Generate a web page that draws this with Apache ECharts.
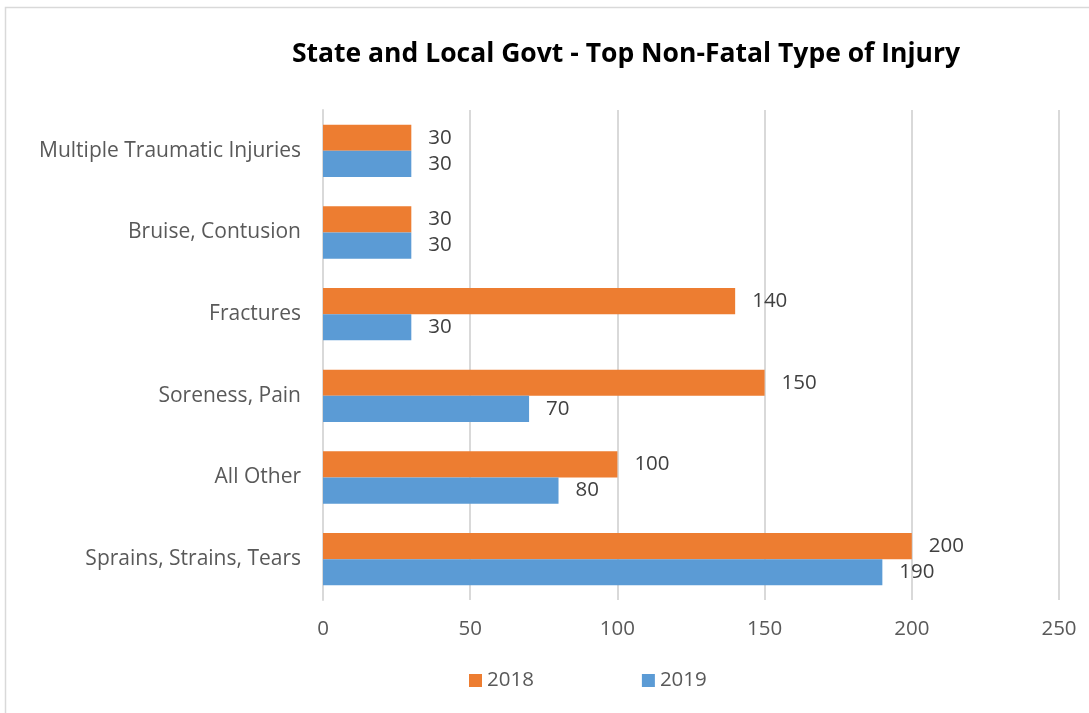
<!DOCTYPE html>
<html><head><meta charset="utf-8">
<script src="https://cdn.jsdelivr.net/npm/echarts@6/dist/echarts.min.js"></script>
<style>html,body{margin:0;padding:0;background:#fff}#c{width:1089px;height:713px}</style>
</head><body><div id="c"></div>
<script>
const categories = ['Sprains, Strains, Tears','All Other','Soreness, Pain','Fractures','Bruise, Contusion','Multiple Traumatic Injuries'];
const values2018 = [200, 100, 150, 140, 30, 30];
const values2019 = [190, 80, 70, 30, 30, 30];
const xTicks = [0, 50, 100, 150, 200, 250];
const FONT = 'Open Sans';
const chart = echarts.init(document.getElementById('c'), null, {renderer:'canvas'});
chart.setOption({
  animation:false,
  textStyle:{fontFamily:FONT},
  graphic:[{type:'rect',shape:{x:5.5,y:7.5,width:1200,height:800},style:{fill:'none',stroke:'#d9d9d9',lineWidth:1.5},silent:true,z:-1}],
  title:{text:'State and Local Govt - Top Non-Fatal Type of Injury',left:621,textAlign:'center',top:36,
    textStyle:{fontFamily:FONT,fontWeight:'bold',fontSize:26.5,color:'#000'}},
  legend:{data:['2018','2019'],top:665,left:464,itemWidth:13,itemHeight:13,itemGap:108,icon:'rect',
    textStyle:{fontFamily:FONT,fontSize:20.5,color:'#595959'}},
  grid:{left:323,right:30,top:110,bottom:113,containLabel:false},
  xAxis:{type:'value',min:xTicks[0],max:xTicks[xTicks.length-1],interval:50,
    axisLine:{show:false},axisTick:{show:false},
    axisLabel:{fontFamily:FONT,fontSize:20.5,color:'#595959',margin:19},
    splitLine:{lineStyle:{color:'#d9d9d9',width:2}}},
  yAxis:{type:'category',data:categories,
    axisLine:{show:true,lineStyle:{color:'#d9d9d9',width:2}},axisTick:{show:false},
    axisLabel:{fontFamily:FONT,fontSize:21,color:'#595959',margin:22}},
  series:[
    {name:'2018',type:'bar',data:values2018,barGap:'0%',barCategoryGap:'36%',
      itemStyle:{color:'#ED7D31'},
      label:{show:true,position:'right',distance:17,fontFamily:FONT,fontSize:20.5,color:'#404040'}},
    {name:'2019',type:'bar',data:values2019,barGap:'0%',barCategoryGap:'36%',
      itemStyle:{color:'#5B9BD5'},
      label:{show:true,position:'right',distance:17,fontFamily:FONT,fontSize:20.5,color:'#404040'}}
  ]
});
</script></body></html>
